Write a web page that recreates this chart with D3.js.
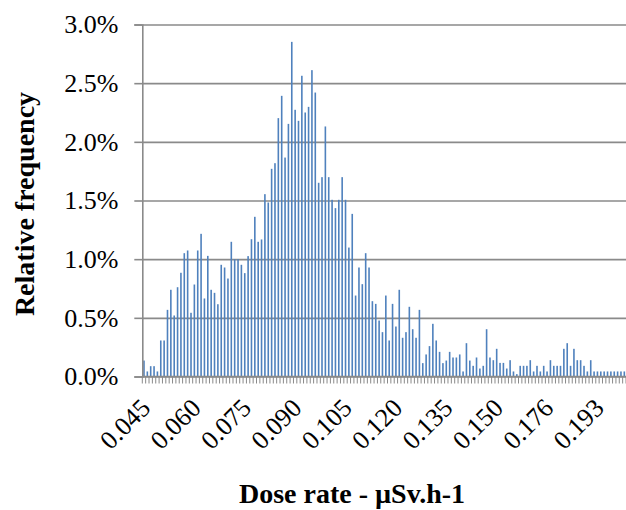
<!DOCTYPE html>
<html>
<head>
<meta charset="utf-8">
<script src="https://cdn.jsdelivr.net/npm/d3@7"></script>
<style>
  html, body { margin: 0; padding: 0; background: #fff; }
  svg { display: block; }
  svg text { font-family: "Liberation Serif", "Times New Roman", Tinos, "DejaVu Serif", serif; }
</style>
</head>
<body>
<svg id="chart" width="626" height="510"></svg>
<script>
// Dose-rate bins (µSv/h), as labelled on the category axis
const categories = [
  "0.045","0.046","0.047","0.048","0.049","0.050","0.051","0.052","0.053","0.054",
  "0.055","0.056","0.057","0.058","0.059","0.060","0.061","0.062","0.063","0.064",
  "0.065","0.066","0.067","0.068","0.069","0.070","0.071","0.072","0.073","0.074",
  "0.075","0.076","0.077","0.078","0.079","0.080","0.081","0.082","0.083","0.084",
  "0.085","0.086","0.087","0.088","0.089","0.090","0.091","0.092","0.093","0.094",
  "0.095","0.096","0.097","0.098","0.099","0.100","0.101","0.102","0.103","0.104",
  "0.105","0.106","0.107","0.108","0.109","0.110","0.111","0.112","0.113","0.114",
  "0.115","0.116","0.117","0.118","0.119","0.120","0.121","0.122","0.123","0.124",
  "0.125","0.126","0.127","0.128","0.129","0.130","0.131","0.132","0.133","0.134",
  "0.135","0.136","0.137","0.138","0.139","0.140","0.141","0.142","0.143","0.144",
  "0.145","0.146","0.147","0.148","0.149","0.150","0.151","0.152","0.153","0.155",
  "0.157","0.158","0.160","0.162","0.164","0.166","0.168","0.170","0.172","0.174",
  "0.176","0.177","0.178","0.179","0.180","0.181","0.182","0.183","0.184","0.186",
  "0.187","0.188","0.189","0.190","0.191","0.193","0.195","0.197","0.199","0.202",
  "0.205","0.208","0.212","0.216"
];

// Relative frequency in percent, one per bin
const frequency = [
  0.136,0.043,0.088,0.088,0.043,0.307,0.307,0.568,0.739,0.520,
  0.761,0.884,1.051,1.074,0.543,0.784,1.074,1.216,0.665,1.028,
  0.739,0.713,0.616,0.952,0.929,0.835,1.148,1.000,1.000,0.952,
  0.881,1.026,1.170,1.361,1.148,1.168,1.554,1.483,1.770,1.818,
  2.202,2.392,1.866,2.153,2.852,2.273,2.179,2.563,2.250,2.298,
  2.611,2.420,1.651,1.699,2.131,1.699,1.506,1.435,1.506,1.699,
  1.506,1.099,1.386,0.690,0.929,0.787,1.051,0.929,0.642,0.619,
  0.477,0.378,0.690,0.307,0.619,0.426,0.739,0.330,0.378,0.594,
  0.403,0.330,0.568,0.114,0.188,0.259,0.449,0.307,0.210,0.114,
  0.136,0.210,0.162,0.162,0.188,0.043,0.284,0.136,0.091,0.162,
  0.068,0.091,0.403,0.162,0.139,0.236,0.116,0.116,0.068,0.139,
  0.043,0.020,0.091,0.091,0.091,0.139,0.043,0.091,0.043,0.091,
  0.043,0.139,0.091,0.091,0.091,0.236,0.284,0.091,0.236,0.139,
  0.139,0.091,0.043,0.139,0.043,0.043,0.043,0.043,0.043,0.043,
  0.043,0.043,0.043,0.043
];

const xTickLabels = ["0.045","0.060","0.075","0.090","0.105","0.120","0.135","0.150","0.176","0.193"];
const yTicks = [0, 0.5, 1.0, 1.5, 2.0, 2.5, 3.0];

const xTitle = "Dose rate - µSv.h-1";
const yTitle = "Relative frequency";

(function () {
const svg = d3.select("#chart");
const pLeft = 142.3, pRight = 626, pTop = 24.5, pBottom = 376.5;
const gridColor = "#8a8a8a";
const barColor = "#4F81BD";

const x = d3.scaleBand().domain(categories).range([pLeft, pRight]).paddingInner(0).paddingOuter(0);
const y = d3.scaleLinear().domain([0, 3]).range([pBottom, pTop]);

// Gridlines
const grid = svg.append("g").attr("transform", `translate(${pLeft},0)`)
  .call(d3.axisLeft(y).tickValues(yTicks).tickSize(-(pRight - pLeft)).tickFormat(""));
grid.select(".domain").remove();
grid.selectAll("line").attr("stroke", gridColor).attr("stroke-width", 1.6);

// Bars
const bw = 1.6;
svg.append("g").selectAll("rect")
  .data(frequency)
  .join("rect")
  .attr("x", (d, i) => x(categories[i]) + x.bandwidth() / 2 - bw / 2)
  .attr("width", bw)
  .attr("y", d => y(d))
  .attr("height", d => y(0) - y(d))
  .attr("fill", barColor);

// Category boundary tick marks
const bounds = categories.map(c => x(c)).concat([x(categories[categories.length - 1]) + x.bandwidth()]);
svg.append("g").selectAll("line")
  .data(bounds)
  .join("line")
  .attr("x1", d => d).attr("x2", d => d)
  .attr("y1", pBottom).attr("y2", pBottom + 7)
  .attr("stroke", gridColor).attr("stroke-width", 1);

// Baseline
svg.append("line").attr("x1", pLeft).attr("x2", pRight).attr("y1", pBottom).attr("y2", pBottom)
  .attr("stroke", gridColor).attr("stroke-width", 1.6);

// Y axis
const yAxis = svg.append("g").attr("transform", `translate(${pLeft},0)`)
  .call(d3.axisLeft(y).tickValues(yTicks).tickSize(8).tickPadding(16).tickFormat(d => d.toFixed(1) + "%"));
yAxis.attr("font-family", null);
yAxis.select(".domain").attr("stroke", gridColor).attr("stroke-width", 1.6);
yAxis.selectAll(".tick line").attr("stroke", gridColor).attr("stroke-width", 1.6);
yAxis.selectAll("text").attr("font-size", 26).attr("fill", "#000");

// X axis labels
const xAxis = svg.append("g").attr("transform", `translate(0,${pBottom})`)
  .call(d3.axisBottom(x).tickValues(xTickLabels).tickSize(0).tickFormat(d => d));
xAxis.attr("font-family", null);
xAxis.select(".domain").remove();
xAxis.selectAll("text")
  .attr("font-size", 26).attr("fill", "#000")
  .attr("text-anchor", "end")
  .attr("y", 0).attr("dy", 0)
  .attr("transform", "translate(8,33) rotate(-45)");

// Titles
svg.append("text").attr("x", 352).attr("y", 503).attr("text-anchor", "middle")
  .attr("font-weight", "bold").attr("font-size", 28).text(xTitle);
svg.append("text").attr("transform", "translate(34,204) rotate(-90)").attr("text-anchor", "middle")
  .attr("font-weight", "bold").attr("font-size", 28).text(yTitle);
})();
</script>
</body>
</html>
